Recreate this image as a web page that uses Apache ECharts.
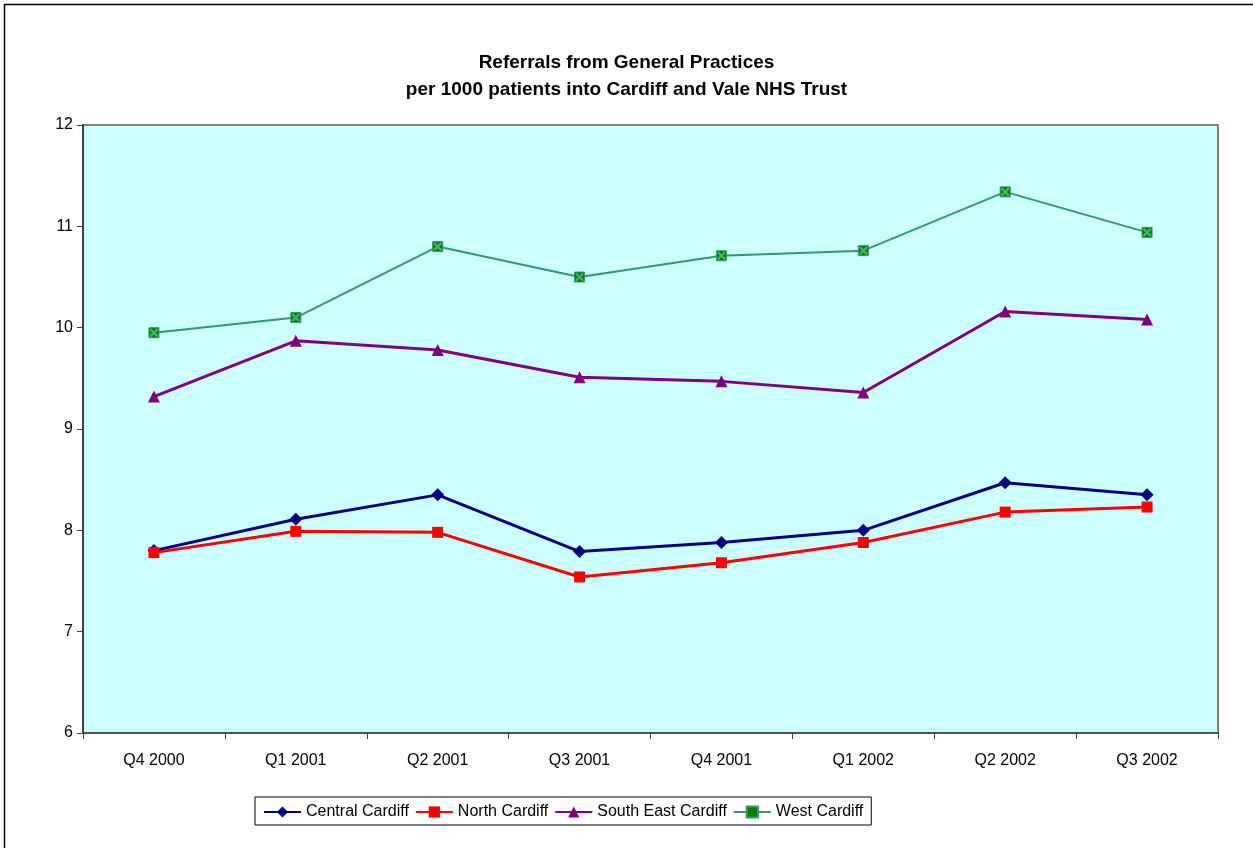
<!DOCTYPE html>
<html><head><meta charset="utf-8">
<script src="https://cdn.jsdelivr.net/npm/echarts@6/dist/echarts.min.js"></script>
<style>html,body{margin:0;padding:0;background:#fff;}#c{width:1253px;height:848px;}</style>
</head><body><div id="c"></div>
<script>
const categories = ['Q4 2000','Q1 2001','Q2 2001','Q3 2001','Q4 2001','Q1 2002','Q2 2002','Q3 2002'];
const centralCardiff = [7.80, 8.11, 8.35, 7.79, 7.88, 8.00, 8.47, 8.35];
const northCardiff = [7.78, 7.99, 7.98, 7.54, 7.68, 7.88, 8.18, 8.23];
const southEastCardiff = [9.32, 9.87, 9.78, 9.51, 9.47, 9.36, 10.16, 10.08];
const westCardiff = [9.95, 10.10, 10.80, 10.50, 10.71, 10.76, 11.34, 10.94];
const yTicks = [6, 7, 8, 9, 10, 11, 12];

const chart = echarts.init(document.getElementById('c'));
const font = 'Liberation Sans, Arial, sans-serif';
chart.setOption({
  animation: false,
  backgroundColor: '#fff',
  graphic: [{type:'rect', shape:{x:4.5, y:4.5, width:1300, height:900}, style:{fill:'none', stroke:'#000', lineWidth:1.5}, z:-1}],
  title: {
    text: 'Referrals from General Practices\nper 1000 patients into Cardiff and Vale NHS Trust',
    left: 'center', top: 44,
    textStyle: {fontFamily: font, fontSize: 19, fontWeight: 'bold', color: '#000', lineHeight: 27}
  },
  legend: {
    top: 797, left: 255,
    borderColor: '#000', borderWidth: 1, padding: [7, 8, 5, 8],
    itemWidth: 37, itemHeight: 14, itemGap: 6,
    textStyle: {fontFamily: font, fontSize: 16, color: '#000'},
    data: ['Central Cardiff','North Cardiff','South East Cardiff','West Cardiff']
  },
  grid: {left: 83, top: 125, width: 1135, height: 608, show: true, backgroundColor: '#CCFFFF', borderColor: '#808080', borderWidth: 2},
  xAxis: {
    type: 'category', data: categories, boundaryGap: true,
    axisLine: {lineStyle: {color: '#404040', width: 1.5}},
    axisTick: {show: true, interval: 0, length: 6, lineStyle: {color: '#404040'}},
    axisLabel: {fontFamily: font, fontSize: 16, color: '#000', margin: 20}
  },
  yAxis: {
    type: 'value', min: yTicks[0], max: yTicks[yTicks.length-1], interval: 1,
    axisLine: {show: true, lineStyle: {color: '#404040', width: 2}},
    axisTick: {show: true, length: 6, lineStyle: {color: '#404040'}},
    splitLine: {show: false},
    axisLabel: {fontFamily: font, fontSize: 16, color: '#000', margin: 10}
  },
  series: [
    {name: 'Central Cardiff', type: 'line', data: centralCardiff, symbol: 'diamond', symbolSize: 13,
     itemStyle: {color: '#000080'}, lineStyle: {color: '#000080', width: 3}},
    {name: 'North Cardiff', type: 'line', data: northCardiff, symbol: 'rect', symbolSize: 11,
     itemStyle: {color: '#FF0000'}, lineStyle: {color: '#FF0000', width: 3}},
    {name: 'South East Cardiff', type: 'line', data: southEastCardiff, symbol: 'triangle', symbolSize: 12,
     itemStyle: {color: '#800080'}, lineStyle: {color: '#800080', width: 3}},
    {name: 'West Cardiff', type: 'line', data: westCardiff, symbol: 'rect', symbolSize: 10,
     itemStyle: {color: '#008000', borderColor: '#339966', borderWidth: 1}, lineStyle: {color: '#339966', width: 2}},
    {name: 'West Cardiff X', type: 'line', data: westCardiff, symbol: 'path://M0,0L2,0L5,3L8,0L10,0L10,2L7,5L10,8L10,10L8,10L5,7L2,10L0,10L0,8L3,5L0,2Z', symbolSize: 8,
     silent: true, z: 3, itemStyle: {color: '#4CAF70'}, lineStyle: {width: 0, opacity: 0}}
  ]
});
</script></body></html>
